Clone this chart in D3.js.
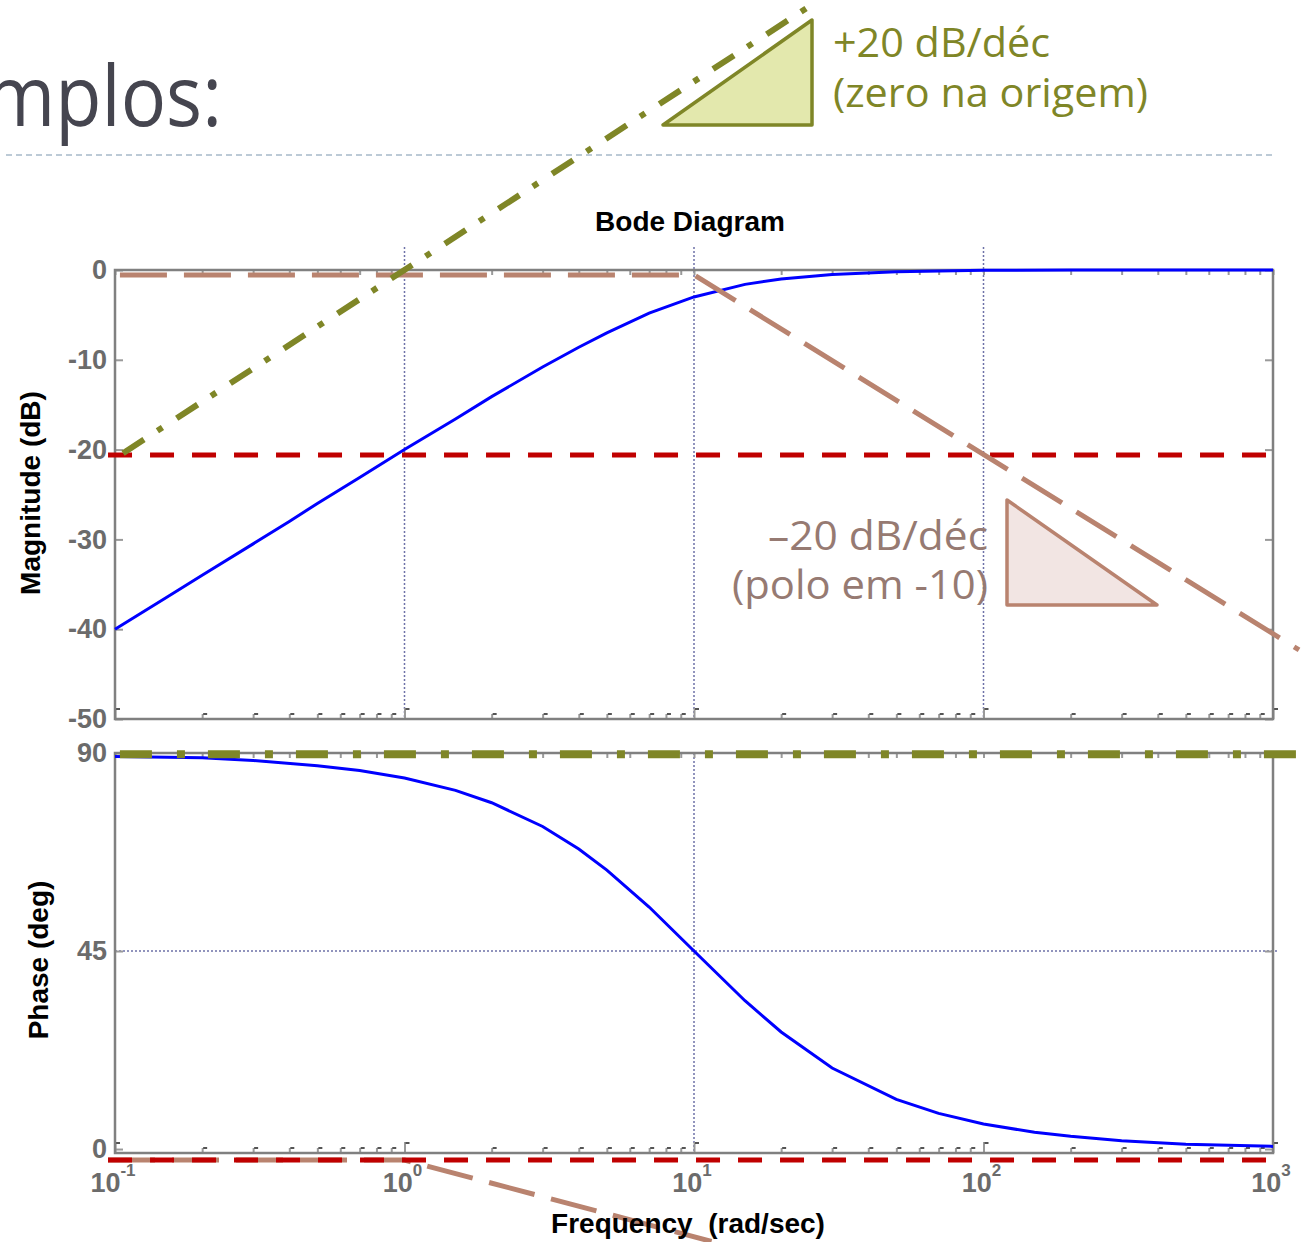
<!DOCTYPE html>
<html>
<head>
<meta charset="utf-8">
<script src="https://cdn.jsdelivr.net/npm/d3@7"></script>
<style>
  body { margin: 0; background: #fff; }
  svg { display: block; }
  .tick line { stroke: #9a9a9a; stroke-width: 2; }
</style>
</head>
<body>
<div class="canvas"></div>
<script>
// magnitude curve (rad/s, dB)
const magFreq = [0.1, 0.15, 0.2, 0.3, 0.4, 0.5, 0.7, 1, 1.5, 2, 3, 4, 5, 7, 10, 15, 20, 30, 50, 100, 200, 1000];
const magDb = [-40.0, -36.5, -34.0, -30.5, -28.0, -26.0, -23.1, -20.0, -16.6, -14.1, -10.8, -8.6, -7.0, -4.8, -3.0, -1.6, -1.0, -0.5, -0.2, -0.04, -0.01, 0];

// phase curve (rad/s, deg)
const phaseFreq = [0.1, 0.2, 0.3, 0.5, 0.7, 1, 1.5, 2, 3, 4, 5, 7, 10, 15, 20, 30, 50, 70, 100, 150, 200, 300, 500, 1000];
const phaseDeg = [89.2, 88.9, 88.3, 87.1, 86.0, 84.3, 81.5, 78.7, 73.3, 68.2, 63.4, 55.0, 45.0, 33.7, 26.6, 18.4, 11.3, 8.1, 5.7, 3.8, 2.9, 1.9, 1.1, 0.6];

// hand drawn asymptotes
const zeroMagFreq = [0.1066, 24.6];
const zeroMagDb = [-20.4, 29.2];
const poleMagFreq = [0.104, 10, 1230];
const poleMagDb = [-0.55, -0.55, -42.3];
const refMagFreq = [0.0946, 953];
const refMagDb = [-20.6, -20.6];

const zeroPhFreq = [0.104, 1260];
const zeroPhDeg = [89.7, 89.7];
const polePhFreq = [0.0946, 1, 11.5];
const polePhDeg = [-2.5, -2.5, -21];
const refPhFreq = [0.0946, 953];
const refPhDeg = [-2.5, -2.5];

// axis ticks
const decades = [0.1, 1, 10, 100, 1000];
const decadeExp = ['-1', '0', '1', '2', '3'];
const magTicks = [0, -10, -20, -30, -40, -50];
const phaseTicks = [90, 45, 0];

const W = 1309, H = 1242;
const box = { left: 115, right: 1273, magTop: 270, magBottom: 719, phTop: 753, phBottom: 1153 };

const svg = d3.select('.canvas').append('svg')
    .attr('width', W).attr('height', H);

const x = d3.scaleLog().domain([0.1, 1000]).range([box.left, box.right]);
const yMag = d3.scaleLinear().domain([-50, 0]).range([box.magBottom, box.magTop]);
const yPh = d3.scaleLinear().domain([-0.9, 90]).range([box.phBottom, box.phTop]);

const pts = (fs, vs) => fs.map((f, i) => [f, vs[i]]);
const lineMag = d3.line().x(d => x(d[0])).y(d => yMag(d[1]));
const linePh = d3.line().x(d => x(d[0])).y(d => yPh(d[1]));

// slide header (only the tail of the word is on screen)
svg.append('g')
    .attr('transform', 'translate(222,126) scale(0.9,1)')
    .append('text')
    .attr('text-anchor', 'end')
    .attr('font-family', 'Open Sans, sans-serif')
    .attr('font-size', 84)
    .attr('fill', '#45454f')
    .text('Exemplos:');

svg.append('line')
    .attr('x1', 6).attr('x2', 1275).attr('y1', 155).attr('y2', 155)
    .attr('stroke', '#a7b9c9').attr('stroke-width', 1.5)
    .attr('stroke-dasharray', '6,4');

// minor tick values
const minor = [];
decades.slice(0, 4).forEach(d => { for (let k = 1; k <= 9; k++) minor.push(d * k); });
minor.push(1000);

const grid = '#6e72a8';

function panel(top, bottom, y, yTicks, gridX, gridY) {
    const g = svg.append('g');

    // grid
    gridX.forEach(f => {
        g.append('line')
            .attr('x1', x(f)).attr('x2', x(f))
            .attr('y1', top === box.magTop ? top - 23 : top).attr('y2', bottom)
            .attr('stroke', grid).attr('stroke-width', 1.5)
            .attr('stroke-dasharray', '2,2');
    });
    gridY.forEach(v => {
        g.append('line')
            .attr('x1', box.left).attr('x2', box.right + 6)
            .attr('y1', y(v)).attr('y2', y(v))
            .attr('stroke', grid).attr('stroke-width', 1.5)
            .attr('stroke-dasharray', '2,2');
    });

    // ticks along bottom and top
    const bx = g.append('g').attr('transform', `translate(0,${bottom})`)
        .call(d3.axisBottom(x).tickValues(minor).tickSize(-5).tickFormat(''));
    const tx = g.append('g').attr('transform', `translate(0,${top})`)
        .call(d3.axisTop(x).tickValues(minor).tickSize(-5).tickFormat(''));
    [bx, tx].forEach(a => a.select('.domain').remove());
    bx.selectAll('.tick line').attr('y2', d => decades.includes(d) ? -11 : -5);

    // small dark stubs at the inner end of bottom ticks
    g.selectAll('.stub').data(minor).join('rect')
        .attr('x', d => x(d) + 1).attr('y', d => bottom - (decades.includes(d) ? 11 : 6))
        .attr('width', 4).attr('height', 2).attr('fill', '#555');

    const ly = g.append('g').attr('transform', `translate(${box.left},0)`)
        .call(d3.axisLeft(y).tickValues(yTicks).tickSize(-8).tickPadding(8)
            .tickFormat(d => String(d)));
    const ry = g.append('g').attr('transform', `translate(${box.right},0)`)
        .call(d3.axisRight(y).tickValues(yTicks).tickSize(-8).tickFormat(''));
    [ly, ry].forEach(a => a.select('.domain').remove());
    ly.selectAll('text')
        .attr('font-family', 'Liberation Sans, Arial, sans-serif')
        .attr('font-weight', 'bold').attr('font-size', 27).attr('fill', '#6b6b6b');

    // frame
    g.append('rect')
        .attr('x', box.left).attr('y', top)
        .attr('width', box.right - box.left).attr('height', bottom - top)
        .attr('fill', 'none').attr('stroke', '#808080').attr('stroke-width', 2.5);
    return g;
}

panel(box.magTop, box.magBottom, yMag, magTicks, [1, 10, 100], []);
panel(box.phTop, box.phBottom, yPh, phaseTicks, [10], [45]);

// magnitude curves
svg.append('path').attr('d', lineMag(pts(magFreq, magDb)))
    .attr('fill', 'none').attr('stroke', '#0000ff').attr('stroke-width', 3);
svg.append('path').attr('d', lineMag(pts(refMagFreq, refMagDb)))
    .attr('fill', 'none').attr('stroke', '#c00000').attr('stroke-width', 5)
    .attr('stroke-dasharray', '24,18');
svg.append('path').attr('d', lineMag(pts(poleMagFreq, poleMagDb)))
    .attr('fill', 'none').attr('stroke', '#b9836f').attr('stroke-width', 5)
    .attr('stroke-dasharray', '47,17');
svg.append('path').attr('d', lineMag(pts(zeroMagFreq, zeroMagDb)))
    .attr('fill', 'none').attr('stroke', '#7f8627').attr('stroke-width', 6)
    .attr('stroke-dasharray', '25,16,6,17');

// phase curves
svg.append('path').attr('d', linePh(pts(phaseFreq, phaseDeg)))
    .attr('fill', 'none').attr('stroke', '#0000ff').attr('stroke-width', 3);
svg.append('path').attr('d', linePh(pts(polePhFreq, polePhDeg)))
    .attr('fill', 'none').attr('stroke', '#b9836f').attr('stroke-width', 5)
    .attr('stroke-dasharray', '47,17');
svg.append('path').attr('d', linePh(pts(refPhFreq, refPhDeg)))
    .attr('fill', 'none').attr('stroke', '#c00000').attr('stroke-width', 5)
    .attr('stroke-dasharray', '24,18');
svg.append('path').attr('d', linePh(pts(zeroPhFreq, zeroPhDeg)))
    .attr('fill', 'none').attr('stroke', '#7f8627').attr('stroke-width', 8)
    .attr('stroke-dasharray', '32,25,8,23');

// x tick labels 10^n
const xl = svg.append('g')
    .attr('font-family', 'Liberation Sans, Arial, sans-serif')
    .attr('font-weight', 'bold').attr('fill', '#6b6b6b');
decades.forEach((d, i) => {
    const t = xl.append('text').attr('x', x(d) - 2).attr('y', 1192)
        .attr('text-anchor', 'middle').attr('font-size', 27);
    t.append('tspan').text('10');
    t.append('tspan').attr('dy', -16).attr('font-size', 17).text(decadeExp[i]);
});

// titles
function label(txt, px, py, size, rot) {
    return svg.append('text').attr('text-anchor', 'middle')
        .attr('transform', `translate(${px},${py}) rotate(${rot || 0})`)
        .attr('font-family', 'Liberation Sans, Arial, sans-serif')
        .attr('font-weight', 'bold').attr('fill', '#000')
        .style('white-space', 'pre')
        .attr('font-size', size).text(txt);
}
label('Bode Diagram', 690, 231, 28);
label('Frequency  (rad/sec)', 688, 1233, 28);
label('Magnitude (dB)', 40, 493, 28, -90);
label('Phase (deg)', 48, 960, 28, -90);

// slope annotations
svg.append('polygon')
    .attr('points', '663,125 812,20 812,125')
    .attr('fill', '#e3e8ad').attr('stroke', '#7f8627').attr('stroke-width', 3.5)
    .attr('stroke-linejoin', 'round');
svg.append('polygon')
    .attr('points', '1007,500 1007,605 1157,605')
    .attr('fill', '#f2e5e3').attr('stroke', '#b9836f').attr('stroke-width', 3.5)
    .attr('stroke-linejoin', 'round');

const note = (txt, px, py, anchor, color, len) => svg.append('text')
    .attr('x', px).attr('y', py).attr('text-anchor', anchor)
    .attr('font-family', 'Open Sans, sans-serif').attr('font-size', 40)
    .attr('fill', color)
    .attr('textLength', len).attr('lengthAdjust', 'spacingAndGlyphs')
    .text(txt);
note('+20 dB/déc', 833, 57, 'start', '#7f8627', 217);
note('(zero na origem)', 833, 107, 'start', '#7f8627', 315);
note('\u201320 dB/déc', 988, 550, 'end', '#967a72', 220);
note('(polo em -10)', 988, 599, 'end', '#967a72', 256);
</script>
</body>
</html>
